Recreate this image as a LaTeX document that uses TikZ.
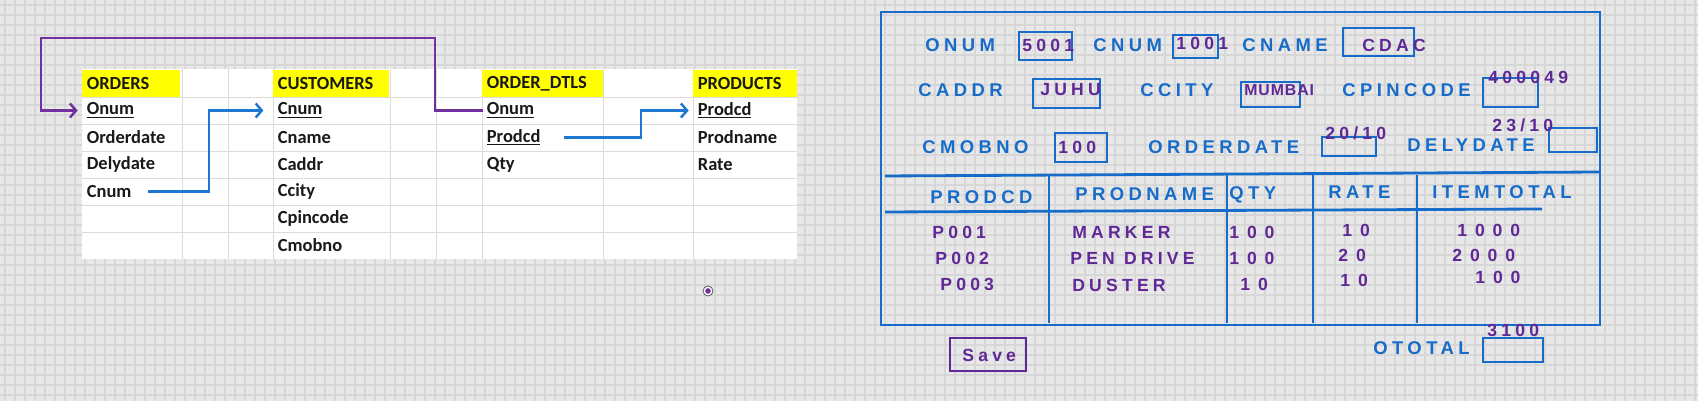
\documentclass[tikz,border=0pt]{standalone}
\usepackage{fontspec}
\usepackage{tikz}
\usetikzlibrary{arrows.meta}

\newfontfamily\xlfont{Carlito}
\newfontfamily\handfont[LetterSpace=24]{Liberation Sans}
\newfontfamily\numfont[LetterSpace=45]{Liberation Sans}
\newfontfamily\tightfont[LetterSpace=6]{Liberation Sans}

\definecolor{gridbg}{RGB}{232,232,232}
\definecolor{gridln}{RGB}{215,215,215}
\definecolor{cellln}{RGB}{220,220,220}
\definecolor{hlyellow}{RGB}{255,255,0}
\definecolor{penblue}{RGB}{22,108,200}
\definecolor{penpurple}{RGB}{96,40,150}
\definecolor{linkpurple}{RGB}{112,48,160}
\definecolor{linkblue}{RGB}{30,120,210}

\tikzset{
	cell/.style={font=\xlfont\bfseries\fontsize{10.5}{12}\selectfont, text=black!90, anchor=west, inner sep=2pt},
	penlbl/.style={font=\handfont\bfseries\fontsize{10.5}{12}\selectfont, text=penblue, anchor=west, inner sep=0pt},
	penval/.style={font=\handfont\bfseries\fontsize{10}{12}\selectfont, text=penpurple, anchor=west, inner sep=0pt},
	pennum/.style={font=\numfont\bfseries\fontsize{10}{12}\selectfont, text=penpurple, anchor=west, inner sep=0pt},
	pen/.style={draw=penblue, line width=1.6pt},
	link/.style={line width=1.4pt, -{Straight Barb[length=3.5pt,width=8pt]}},
}

\begin{document}
\begin{tikzpicture}[x=0.02cm, y=-0.02cm]
	\useasboundingbox (0,0) rectangle (1698,401);
	% squared paper
	\fill[gridbg] (0,0) rectangle (1698,401);
	\foreach \gx in {0,10,...,1690}
		\draw[gridln, line width=0.6pt] (\gx+5,0) -- (\gx+5,401);
	\foreach \gy in {0,10,...,400}
		\draw[gridln, line width=0.6pt] (0,\gy+5) -- (1698,\gy+5);

	% sheet with the four tables
	\fill[white] (82,69) rectangle (797,259);
	\foreach \cx in {182,228,273,390,436,482,603,693}
		\draw[cellln, line width=0.5pt] (\cx,69) -- (\cx,259);
	\foreach \ry in {97,124,151,178,205,232}
		\draw[cellln, line width=0.5pt] (82,\ry) -- (797,\ry);
	\fill[hlyellow] (82,70) rectangle (180,97);
	\fill[hlyellow] (273,70) rectangle (389,97);
	\fill[hlyellow] (482,70) rectangle (603,97);
	\fill[hlyellow] (693,70) rectangle (797,97);

	\node[cell] (ord-head) at (83,84) {ORDERS};
	\node[cell] (ord-onum) at (83,110.5) {\underline{Onum}};
	\node[cell] (ord-odate) at (83,137.5) {Orderdate};
	\node[cell] (ord-ddate) at (83,164.5) {Delydate};
	\node[cell] (ord-cnum) at (83,191.5) {Cnum};

	\node[cell] (cus-head) at (274,84) {CUSTOMERS};
	\node[cell] (cus-cnum) at (274,110.5) {\underline{Cnum}};
	\node[cell] (cus-cname) at (274,137.5) {Cname};
	\node[cell] (cus-caddr) at (274,164.5) {Caddr};
	\node[cell] (cus-ccity) at (274,191.5) {Ccity};
	\node[cell] (cus-cpin) at (274,218.5) {Cpincode};
	\node[cell] (cus-cmob) at (274,245.5) {Cmobno};

	\node[cell] (od-head) at (483,84) {ORDER\_DTLS};
	\node[cell] (od-onum) at (483,110.5) {\underline{Onum}};
	\node[cell] (od-prodcd) at (483,137.5) {\underline{Prodcd}};
	\node[cell] (od-qty) at (483,164.5) {Qty};

	\node[cell] (prd-head) at (694,84) {PRODUCTS};
	\node[cell] (prd-prodcd) at (694,110.5) {\underline{Prodcd}};
	\node[cell] (prd-pname) at (694,137.5) {Prodname};
	\node[cell] (prd-rate) at (694,164.5) {Rate};

	% links between the tables
	\coordinate (oloop) at (41,38);
	\coordinate (cbend) at (209,0);
	\coordinate (pbend) at (641,0);
	\draw[link, linkpurple, shorten >=3pt] (od-onum.west) -| (435,38) -- (oloop) |- (ord-onum.west);
	\draw[link, linkblue, shorten <=7pt, shorten >=6pt] (ord-cnum.east) -| (cbend |- cus-cnum.west) -- (cus-cnum.west);
	\draw[link, linkblue, shorten <=11pt, shorten >=3pt] (od-prodcd.east) -| (pbend |- prd-prodcd.west) -- (prd-prodcd.west);

	% mouse pointer
	\node[circle, draw=black!70, fill=white, inner sep=0pt, minimum size=0.2cm] (mouse) at (708,291) {};
	\fill[linkpurple] (mouse) circle[radius=1.6pt];

	% hand drawn order form
	\draw[pen] (881,12) rectangle (1600,325);
	\draw[pen] (1019,32) rectangle (1072,60);
	\draw[pen] (1173,35) rectangle (1218,58);
	\draw[pen] (1343,28) rectangle (1414,56);
	\draw[pen] (1033,79) rectangle (1100,108);
	\draw[pen] (1241,82) rectangle (1300,107);
	\draw[pen] (1483,78) rectangle (1538,107);
	\draw[pen] (1055,133) rectangle (1107,162);
	\draw[pen] (1322,137) rectangle (1376,156);
	\draw[pen] (1549,128) rectangle (1597,152);

	\node[penlbl] (l-onum) at (925,45) {ONUM};
	\node[penval] (v-onum) at (1022,45) {5001};
	\node[penlbl] (l-cnum) at (1093,45) {CNUM};
	\node[penval] (v-cnum) at (1176,43) {1001};
	\node[penlbl] (l-cname) at (1242,45) {CNAME};
	\node[penval] (v-cname) at (1362,45) {CDAC};

	\node[penlbl] (l-caddr) at (918,90) {CADDR};
	\node[penval] (v-caddr) at (1040,90) {JUHU};
	\node[penlbl] (l-ccity) at (1140,90) {CCITY};
	\node[penval, font=\tightfont\bfseries\fontsize{9}{11}\selectfont] (v-ccity) at (1244,90) {MUMBAI};
	\node[penlbl] (l-cpin) at (1342,90) {CPINCODE};
	\node[penval] (v-cpin) at (1488,77) {400049};

	\node[penlbl] (l-cmob) at (922,147) {CMOBNO};
	\node[penval] (v-cmob) at (1058,147) {100};
	\node[penlbl] (l-odate) at (1148,147) {ORDERDATE};
	\node[penval] (v-odate) at (1325,133) {20/10};
	\node[penlbl] (l-ddate) at (1407,145) {DELYDATE};
	\node[penval] (v-ddate) at (1492,125) {23/10};

	% item grid
	\draw[pen] (885,176) -- (1600,172);
	\draw[pen] (885,212) -- (1542,209);
	\foreach \vx in {1049,1227,1313,1417}
		\draw[pen] (\vx,175) -- (\vx,323);

	\node[penlbl] (h-prodcd) at (930,197) {PRODCD};
	\node[penlbl] (h-pname) at (1075,194) {PRODNAME};
	\node[penlbl] (h-qty) at (1229,195) {QTY};
	\node[penlbl] (h-rate) at (1328,192) {RATE};
	\node[penlbl] (h-total) at (1432,192) {ITEMTOTAL};

	\node[penval] (p1) at (932,232) {P001};
	\node[penval] (p2) at (935,258) {P002};
	\node[penval] (p3) at (940,284) {P003};
	\node[penval] (n1) at (1072,232) {MARKER};
	\node[penval] (n2) at (1070,258) {PEN DRIVE};
	\node[penval] (n3) at (1072,285) {DUSTER};
	\node[pennum] (q1) at (1229,232) {100};
	\node[pennum] (q2) at (1229,258) {100};
	\node[pennum] (q3) at (1240,284) {10};
	\node[pennum] (r1) at (1342,230) {10};
	\node[pennum] (r2) at (1338,255) {20};
	\node[pennum] (r3) at (1340,280) {10};
	\node[pennum] (t1) at (1457,230) {1000};
	\node[pennum] (t2) at (1452,255) {2000};
	\node[pennum] (t3) at (1475,277) {100};

	% buttons under the form
	\draw[draw=penpurple, line width=1.6pt] (950,338) rectangle (1026,371);
	\node[penval] (save) at (962,355) {Save};
	\node[penlbl] (l-total) at (1373,348) {OTOTAL};
	\draw[pen] (1483,338) rectangle (1543,362);
	\node[penval] (v-total) at (1487,330) {3100};
\end{tikzpicture}
\end{document}
